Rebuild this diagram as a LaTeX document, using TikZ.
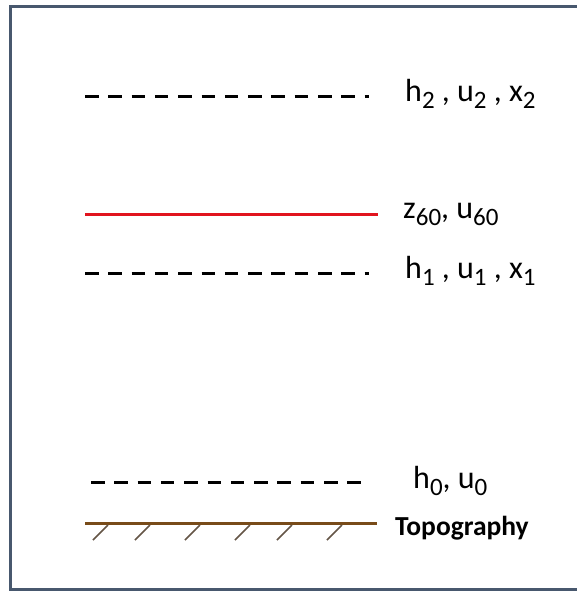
\documentclass[tikz,border=0pt]{standalone}
\usepackage{fontspec}
\setmainfont{Carlito}
\definecolor{framecol}{RGB}{72,88,110}
\definecolor{topobrown}{RGB}{120,75,25}
\definecolor{tickcol}{RGB}{100,85,70}
\definecolor{zred}{RGB}{225,20,30}
\newcommand{\lsub}[1]{\raisebox{-7pt}{\fontsize{25}{25}\selectfont #1}}
\tikzset{
  level/.style={line width=3pt, dash pattern=on 13.5pt off 9.8pt},
  lab/.style={anchor=base west, inner sep=0pt, font=\fontsize{32}{34}\selectfont}
}
\begin{document}
\begin{tikzpicture}[x=1pt, y=-1pt]
        \useasboundingbox (0,0) rectangle (577,591);
        \draw[framecol, line width=3pt] (10,7) rectangle (582,589);
        \coordinate (h2a) at (85,97);
        \coordinate (h2b) at (369,97);
        \coordinate (za) at (85,214);
        \coordinate (zb) at (378,214);
        \coordinate (h1a) at (85,273);
        \coordinate (h1b) at (369,273);
        \coordinate (h0a) at (91,482);
        \coordinate (h0b) at (364,482);
        \coordinate (ta) at (85,523);
        \coordinate (tb) at (377,523);
        \draw[level] (h2a) -- (h2b);
        \draw[level] (h1a) -- (h1b);
        \draw[level] (h0a) -- (h0b);
        \draw[zred, line width=3pt] (za) -- (zb);
        \draw[topobrown, line width=3pt] (ta) -- (tb);
        \foreach \x in {93,135,185,235,277,327}
            \draw[tickcol, line width=1.5pt] (\x,540) -- (\x+15,525);
        \node[lab] (l2) at (405,102) {h\lsub{2} , u\lsub{2} , x\lsub{2}};
        \node[lab] (lz) at (403,218) {z\lsub{60}, u\lsub{60}};
        \node[lab] (l1) at (405,278) {h\lsub{1} , u\lsub{1} , x\lsub{1}};
        \node[lab] (l0) at (413,488) {h\lsub{0}, u\lsub{0}};
        \node[lab, font=\fontsize{27.5}{29}\selectfont\bfseries] (lt) at (395,535) {Topography};
    \end{tikzpicture}
\end{document}
